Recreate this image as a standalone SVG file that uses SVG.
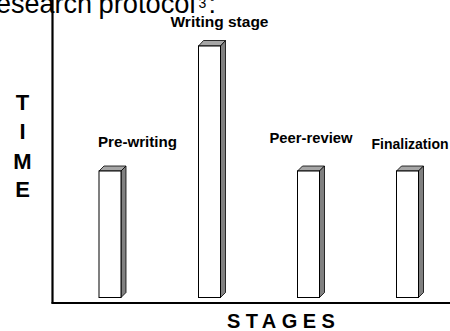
<svg xmlns="http://www.w3.org/2000/svg" width="450" height="331" viewBox="0 0 450 331">
<style>
.front{fill:#fff;stroke:#000;stroke-width:1}
.side{fill:#808080;stroke:#000;stroke-width:0.8}
.top{fill:#a6a6a6;stroke:#000;stroke-width:0.8}
.lbl{font-family:"Liberation Sans",Arial,sans-serif;font-weight:bold;font-size:15px;fill:#000}
.axl{font-family:"Liberation Sans",Arial,sans-serif;font-weight:bold;font-size:22px;fill:#000;text-anchor:middle}
.axis{stroke:#000;stroke-width:2.2;fill:none}
</style>
<rect width="450" height="331" fill="#fff"/>
<g id="heading">
<text font-family="Liberation Sans, Arial, sans-serif" font-size="27" y="12.5"><tspan x="-4">esearch</tspan><tspan x="98.5" textLength="97" lengthAdjust="spacingAndGlyphs">protocol</tspan><tspan x="198.5" y="8" font-size="14">3</tspan><tspan x="208.5" y="12.5">:</tspan></text>
</g>
<g id="axes">
<line class="axis" x1="52.5" y1="0" x2="52.5" y2="303.5"/>
<line class="axis" x1="51.5" y1="303" x2="450" y2="303"/>
</g>
<g id="y-label">
<text class="axl" x="22.5" y="110">T</text>
<text class="axl" x="22.5" y="139">I</text>
<text class="axl" x="22.5" y="168.5">M</text>
<text class="axl" x="22.5" y="197">E</text>
</g>
<g id="x-label">
<text font-family="Liberation Sans, Arial, sans-serif" font-weight="bold" font-size="20" letter-spacing="5.4" x="227" y="328.3">STAGES</text>
</g>
<g id="bar-prewriting">
<polygon class="top" points="99,171 104,166 126,166 121,171"/>
<polygon class="side" points="121,171 126,166 126,292.5 121,297.5"/>
<rect class="front" x="99" y="171" width="22" height="126.5"/>
<text class="lbl" x="98" y="147" textLength="79" lengthAdjust="spacingAndGlyphs">Pre-writing</text>
</g>
<g id="bar-writing">
<polygon class="top" points="198.5,46 203.5,40.5 225.5,40.5 220.5,46"/>
<polygon class="side" points="220.5,46 225.5,40.5 225.5,292.5 220.5,297.5"/>
<rect class="front" x="198.5" y="46" width="22" height="251.5"/>
<text class="lbl" x="170.5" y="27.3" textLength="98" lengthAdjust="spacingAndGlyphs">Writing stage</text>
</g>
<g id="bar-peer">
<polygon class="top" points="297.5,171 302.5,166 324.5,166 319.5,171"/>
<polygon class="side" points="319.5,171 324.5,166 324.5,292.5 319.5,297.5"/>
<rect class="front" x="297.5" y="171" width="22" height="126.5"/>
<text class="lbl" x="269.5" y="142.7" textLength="83" lengthAdjust="spacingAndGlyphs">Peer-review</text>
</g>
<g id="bar-final">
<polygon class="top" points="396.5,171 401.5,166 423.5,166 418.5,171"/>
<polygon class="side" points="418.5,171 423.5,166 423.5,292.5 418.5,297.5"/>
<rect class="front" x="396.5" y="171" width="22" height="126.5"/>
<text class="lbl" x="371.5" y="149" textLength="77" lengthAdjust="spacingAndGlyphs">Finalization</text>
</g>
</svg>
